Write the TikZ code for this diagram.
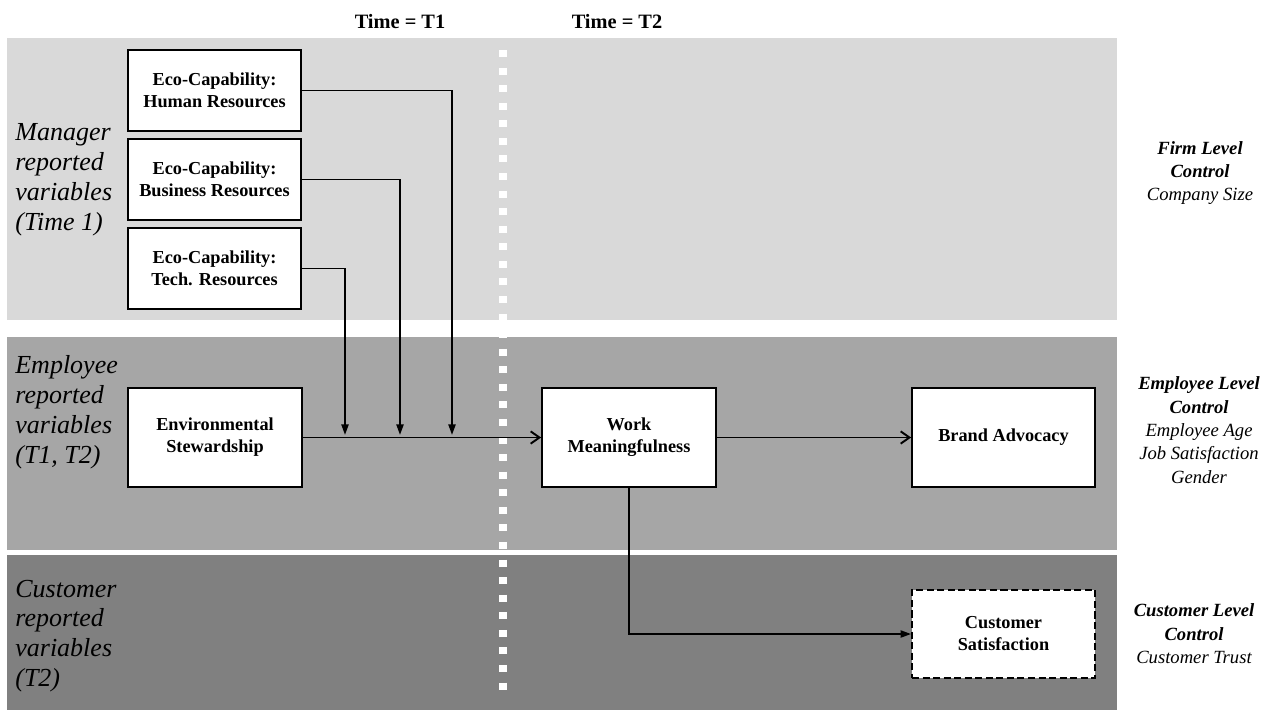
\documentclass[tikz,border=0pt]{standalone}
\usepackage{fontspec}
\setmainfont{Liberation Serif}
\usetikzlibrary{arrows.meta}
\definecolor{bandA}{HTML}{D9D9D9}
\definecolor{bandB}{HTML}{A6A6A6}
\definecolor{bandC}{HTML}{808080}
\begin{document}
\begin{tikzpicture}[x=0.02cm,y=-0.02cm,
  box/.style={draw=black, line width=1pt, fill=white, align=center, inner sep=2pt,
    font=\fontsize{10.4}{12.5}\selectfont\bfseries},
  conn/.style={line width=1.1pt},
  filltip/.style={-{Triangle[length=6pt,width=4pt]}},
  opentip/.style={-{Straight Barb[length=5pt,width=7pt]}},
  sidelabel/.style={align=left, anchor=west, inner sep=0pt,
    font=\fontsize{14.8}{17}\selectfont\itshape},
  ctrl/.style={align=center, inner sep=0pt,
    font=\fontsize{10.6}{13.3}\selectfont\itshape},
  timelabel/.style={inner sep=0pt, font=\fontsize{11.6}{14}\selectfont\bfseries}
]
\useasboundingbox (0,0) rectangle (1270,710);
\fill[white] (0,0) rectangle (1270,710);

% horizontal bands for the three reporting levels
\fill[bandA] (7,38) rectangle (1117,320);
\fill[bandB] (7,337) rectangle (1117,550);
\fill[bandC] (7,555) rectangle (1117,710);

% time separator
\draw[white, line width=4pt, dash pattern=on 4pt off 6pt] (503,50) -- (503,700);

% time headings
\node[timelabel] (t1) at (400,22) {Time = T1};
\node[timelabel] (t2) at (617,22) {Time = T2};

% level labels on the left
\node[sidelabel] (mgr) at (15,180) {Manager\\reported\\variables\\(Time 1)};
\node[sidelabel] (emp) at (15,412) {Employee\\reported\\variables\\(T1, T2)};
\node[sidelabel] (cus) at (15,636) {Customer\\reported\\variables\\(T2)};

% control variables on the right
\node[ctrl] (firmctrl) at (1200,173) {\textbf{Firm Level}\\\textbf{Control}\\Company Size};
\node[ctrl] (empctrl) at (1199,430) {\textbf{Employee Level}\\\textbf{Control}\\Employee Age\\Job Satisfaction\\Gender};
\node[ctrl] (cusctrl) at (1194,634) {\textbf{Customer Level}\\\textbf{Control}\\Customer Trust};

% constructs
\node[box, minimum width=3.46cm, minimum height=1.62cm] (hr) at (214.5,90.5) {Eco-Capability:\\Human Resources};
\node[box, minimum width=3.46cm, minimum height=1.62cm] (br) at (214.5,179.5) {Eco-Capability:\\Business Resources};
\node[box, minimum width=3.46cm, minimum height=1.62cm] (tr) at (214.5,268.5) {Eco-Capability:\\Tech. Resources};
\node[box, minimum width=3.48cm, minimum height=1.98cm] (env) at (215,437.5) {Environmental\\Stewardship};
\node[box, minimum width=3.48cm, minimum height=1.98cm] (work) at (629,437.5) {Work\\Meaningfulness};
\node[box, minimum width=3.66cm, minimum height=1.98cm] (brand) at (1003.5,437.5) {Brand Advocacy};
\node[box, dash pattern=on 4pt off 2pt, minimum width=3.66cm, minimum height=1.76cm] (cust) at (1003.5,634) {Customer\\Satisfaction};

% moderator paths ending on the main path
\coordinate (j1) at (345,435);
\coordinate (j2) at (400,435);
\coordinate (j3) at (452,435);
\draw[conn, filltip] (tr.east) -| (j1);
\draw[conn, filltip] (br.east) -| (j2);
\draw[conn, filltip] (hr.east) -| (j3);

% main paths
\draw[conn, opentip] (env.east) -- (work.west);
\draw[conn, opentip] (work.east) -- (brand.west);
\draw[conn, filltip] (work.south) |- (cust.west);
\end{tikzpicture}
\end{document}
